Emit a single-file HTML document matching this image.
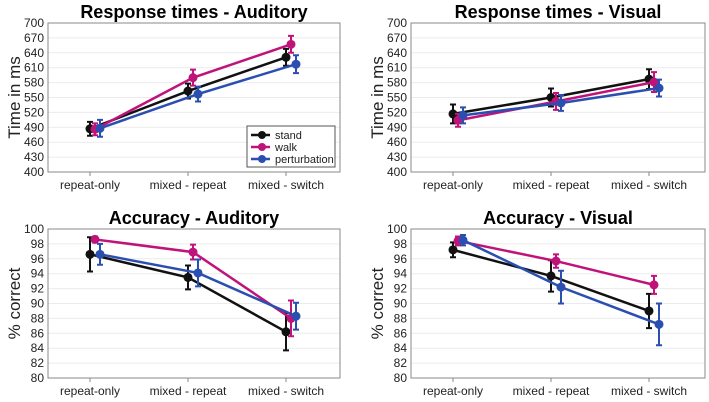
<!DOCTYPE html>
<html><head><meta charset="utf-8"><style>
html,body{margin:0;padding:0;background:#fff;}
svg{display:block;font-family:"Liberation Sans",Arial,sans-serif;}
</style></head><body>
<svg id="c" width="709" height="402"></svg>
<script>
const categories=["repeat-only","mixed - repeat","mixed - switch"];
const seriesNames=["stand","walk","perturbation"];
const rtAudMean=[[487,563,631],[486,590,657],[488,557,617]];
const rtAudErr=[[14,15,17],[12,16,17],[17,15,18]];
const rtVisMean=[[517,550,587],[504,542,581],[514,539,569]];
const rtVisErr=[[19,18,20],[13,17,20],[16,16,17]];
const accAudMean=[[96.6,93.5,86.2],[98.6,96.9,88.0],[96.6,94.1,88.3]];
const accAudErr=[[2.3,1.6,2.5],[0.4,1.0,2.4],[1.4,1.8,1.8]];
const accVisMean=[[97.2,93.7,89.0],[98.4,95.7,92.5],[98.5,92.2,87.2]];
const accVisErr=[[1.0,2.1,2.3],[0.6,0.9,1.2],[0.7,2.2,2.8]];
const rtTicks=[400,430,460,490,520,550,580,610,640,670,700];
const accTicks=[80,82,84,86,88,90,92,94,96,98,100];
const colors=["#111111","#c0137a","#2a4fb0"];
const offs=[0,5,10];
const NS="http://www.w3.org/2000/svg";
const svg=document.getElementById("c");
function mk(tag,attrs,parent,text){const e=document.createElementNS(NS,tag);for(const k in attrs)e.setAttribute(k,attrs[k]);if(text!==undefined)e.textContent=text;(parent||svg).appendChild(e);return e;}
const panels=[
 {title:"Response times - Auditory",ylab:"Time in ms",m:rtAudMean,e:rtAudErr,ticks:rtTicks,x0:48,x1:340,y0:172,y1:23,legend:true,key:"rt-auditory"},
 {title:"Response times - Visual",ylab:"Time in ms",m:rtVisMean,e:rtVisErr,ticks:rtTicks,x0:411,x1:705,y0:172,y1:23,key:"rt-visual"},
 {title:"Accuracy - Auditory",ylab:"% correct",m:accAudMean,e:accAudErr,ticks:accTicks,x0:48,x1:340,y0:378,y1:229,key:"acc-auditory"},
 {title:"Accuracy - Visual",ylab:"% correct",m:accVisMean,e:accVisErr,ticks:accTicks,x0:411,x1:705,y0:378,y1:229,key:"acc-visual"}
];
panels.forEach(p=>{
 const g=mk("g",{});
 
 
 const lo=p.ticks[0],hi=p.ticks[p.ticks.length-1];
 const ys=v=>p.y0-(v-lo)/(hi-lo)*(p.y0-p.y1);
 const xs=i=>p.x0+42+i*98;
 p.ticks.forEach(t=>{
  const y=ys(t);
  const gl=mk("line",{x1:p.x0,x2:p.x1,y1:y,y2:y,stroke:"#ebebeb","stroke-width":1},g);
  
  
  const tl=mk("text",{x:p.x0-4,y:y+4,"text-anchor":"end","font-size":12,fill:"#222"},g,t);
  
  
 });
 const fr=mk("rect",{x:p.x0,y:p.y1,width:p.x1-p.x0,height:p.y0-p.y1,fill:"none",stroke:"#8a8a8a","stroke-width":1},g);
 
 
 categories.forEach((c,i)=>{
  mk("line",{x1:xs(i),x2:xs(i),y1:p.y0,y2:p.y0+4,stroke:"#8a8a8a"},g);
  const cl=mk("text",{x:xs(i),y:p.y0+17,"text-anchor":"middle","font-size":12,fill:"#222"},g,c);
  
  
 });
 const tt=mk("text",{x:(p.x0+p.x1)/2,y:p.y1-5,"text-anchor":"middle","font-size":18,"font-weight":"bold",fill:"#000"},g,p.title);
 
 
 const yl=mk("text",{x:0,y:0,transform:`translate(${p.x0-28},${(p.y0+p.y1)/2}) rotate(-90)`,"text-anchor":"middle","font-size":17,fill:"#222"},g,p.ylab);
 
 
 p.m.forEach((ser,s)=>{
  const pts=ser.map((v,i)=>(xs(i)+offs[s])+","+ys(v)).join(" ");
  const pl=mk("polyline",{points:pts,fill:"none",stroke:colors[s],"stroke-width":2.5},g);
  
  
  ser.forEach((v,i)=>{
   const x=xs(i)+offs[s],e=p.e[s][i];
   const eb=mk("path",{d:`M${x},${ys(v-e)}V${ys(v+e)}M${x-3},${ys(v-e)}H${x+3}M${x-3},${ys(v+e)}H${x+3}`,stroke:colors[s],"stroke-width":2,fill:"none"},g);
   
   
   const pt=mk("circle",{cx:x,cy:ys(v),r:4.5,fill:colors[s]},g);
   
   
  });
 });
 if(p.legend){
  const lg=mk("g",{},g);
  
  
  mk("rect",{x:247,y:126,width:88,height:41,fill:"#fff",stroke:"#555","stroke-width":1},lg);
  seriesNames.forEach((n,s)=>{
   const y=135+s*12;
   const le=mk("g",{},lg);
   
   
   mk("line",{x1:251,x2:270,y1:y,y2:y,stroke:colors[s],"stroke-width":2.5},le);
   mk("circle",{cx:262,cy:y,r:4,fill:colors[s]},le);
   mk("text",{x:275,y:y+4,"font-size":11,fill:"#222"},le,n);
  });
 }
});
</script>
</body></html>
